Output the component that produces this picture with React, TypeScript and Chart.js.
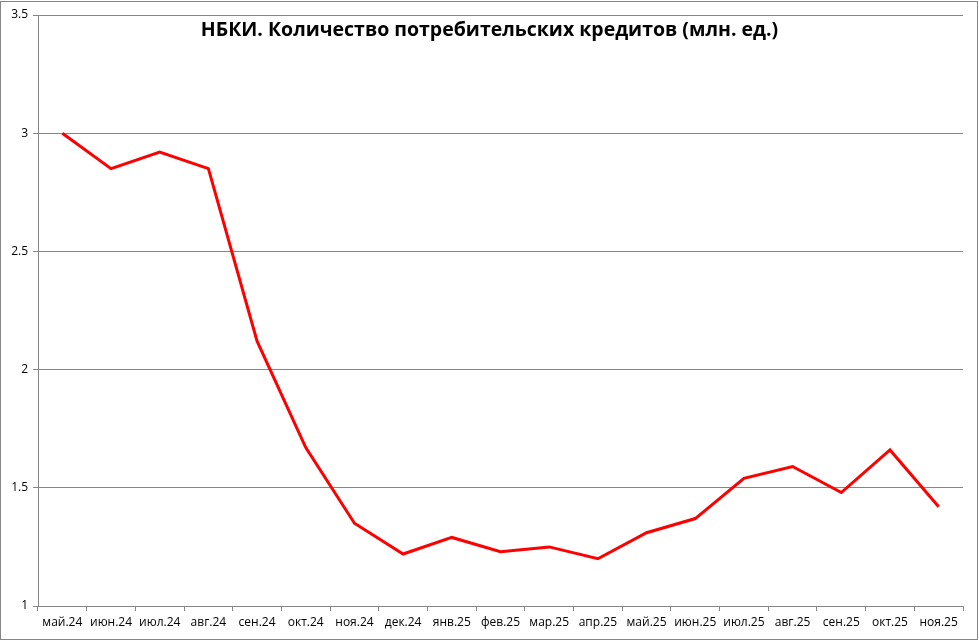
import React, { useEffect, useRef } from "react";
import { Chart, registerables } from "chart.js";

Chart.register(...registerables);

const TITLE = "НБКИ. Количество потребительских кредитов (млн. ед.)";

const categories = [
  "май.24", "июн.24", "июл.24", "авг.24", "сен.24", "окт.24", "ноя.24", "дек.24",
  "янв.25", "фев.25", "мар.25", "апр.25", "май.25", "июн.25", "июл.25", "авг.25",
  "сен.25", "окт.25", "ноя.25",
];

const credits = [
  3.0, 2.85, 2.92, 2.85, 2.12, 1.67, 1.35, 1.22,
  1.29, 1.23, 1.25, 1.2, 1.31, 1.37, 1.54, 1.59,
  1.48, 1.66, 1.42,
];

const yMin = 1;
const yMax = 3.5;
const yStep = 0.5;

const GRAY = "#868686";

export default function App() {
  const ref = useRef<HTMLCanvasElement | null>(null);

  useEffect(() => {
    if (!ref.current) return;

    const decor = {
      id: "decor",
      afterDraw(chart: any) {
        const ctx = chart.ctx;
        ctx.save();
        // outer frame
        ctx.strokeStyle = GRAY;
        ctx.lineWidth = 1;
        ctx.strokeRect(0.5, 1.5, 977, 638);
        // title
        let size = 24;
        ctx.font = `bold ${size}px "Open Sans"`;
        while (ctx.measureText(TITLE).width > 582 && size > 10) {
          size -= 0.5;
          ctx.font = `bold ${size}px "Open Sans"`;
        }
        ctx.fillStyle = "#000";
        ctx.textAlign = "center";
        ctx.textBaseline = "alphabetic";
        ctx.fillText(TITLE, 489.5, 36);
        ctx.restore();
      },
    };

    const chart = new Chart(ref.current, {
      type: "line",
      data: {
        labels: categories,
        datasets: [
          {
            data: credits,
            borderColor: "#FF0000",
            backgroundColor: "#FF0000",
            borderWidth: 3,
            pointRadius: 0,
            tension: 0,
            fill: false,
          },
        ],
      },
      options: {
        animation: false,
        responsive: false,
        layout: { padding: { top: 15, right: 16, left: 0, bottom: 0 } },
        plugins: {
          legend: { display: false },
          title: { display: false },
          tooltip: { enabled: false },
        },
        scales: {
          x: {
            type: "category",
            offset: true,
            afterFit: (s: any) => {
              s.height = 35;
            },
            grid: {
              offset: true,
              drawOnChartArea: false,
              drawTicks: true,
              tickLength: 5,
              color: GRAY,
            },
            border: { display: true, color: GRAY, width: 1 },
            ticks: {
              color: "#000",
              font: { family: "Open Sans", size: 12 },
              padding: 4,
              maxRotation: 0,
              autoSkip: false,
            },
          },
          y: {
            min: yMin,
            max: yMax,
            afterFit: (s: any) => {
              s.width = 38;
            },
            grid: {
              color: GRAY,
              tickLength: 5,
              drawTicks: true,
            },
            border: { display: true, color: GRAY, width: 1 },
            ticks: {
              stepSize: yStep,
              color: "#000",
              font: { family: "Open Sans", size: 12 },
              padding: 5,
              callback: (v: any) => String(Math.round(Number(v) * 10) / 10),
            },
          },
        },
      },
      plugins: [decor],
    } as any);

    return () => chart.destroy();
  }, []);

  return (
    <div style={{ position: "absolute", left: 0, top: 0, width: 979, height: 641, background: "#fff" }}>
      <canvas ref={ref} width={979} height={641} style={{ display: "block" }} />
    </div>
  );
}
